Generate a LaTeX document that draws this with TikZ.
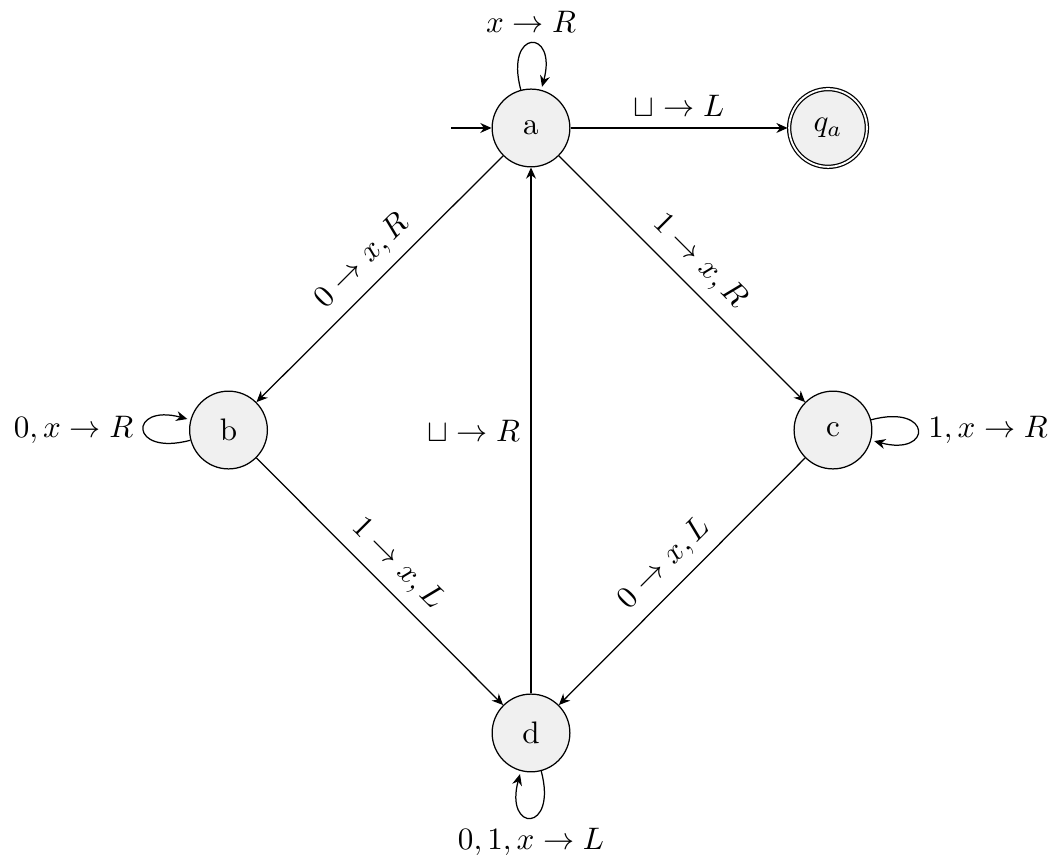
\documentclass[tikz,border=0pt]{standalone}
\usepackage{amsmath,amssymb}
\usetikzlibrary{arrows.meta,automata,positioning}
\tikzset{
  tmstate/.style={state,fill=black!6,minimum size=2.5em},
  tmlabel/.style={above,sloped},
}

\begin{document}
\begin{tikzpicture}[x=1cm,y=1cm,>={Stealth[length=3.6pt,width=3.2pt]},initial text=,every edge/.style={draw,->}]
\useasboundingbox (0,0) rectangle (11.898,-9.718);
% states of the machine
\node[tmstate,initial] (a) at (6.0,-1.446) {a};
\node[tmstate,accepting] (qa) at (9.356,-1.446) {$q_a$};
\node[tmstate] (b) at (2.582,-4.859) {b};
\node[tmstate] (c) at (9.412,-4.859) {c};
\node[tmstate] (d) at (6.0,-8.282) {d};
% transitions
\path (a) edge node[above] {$\sqcup\to L$} (qa)
      (a) edge[loop above] node[above] {$x\to R$} ()
      (a) edge node[tmlabel] {$0\to x, R$} (b)
      (a) edge node[tmlabel] {$1\to x, R$} (c)
      (b) edge[loop left] node[left] {$0,x\to R$} ()
      (b) edge node[tmlabel] {$1\to x, L$} (d)
      (c) edge[loop right] node[right] {$1,x\to R$} ()
      (c) edge node[tmlabel] {$0\to x, L$} (d)
      (d) edge[loop below] node[below] {$0,1,x\to L$} ()
      (d) edge node[left] {$\sqcup\to R$} (a);
\end{tikzpicture}
\end{document}
